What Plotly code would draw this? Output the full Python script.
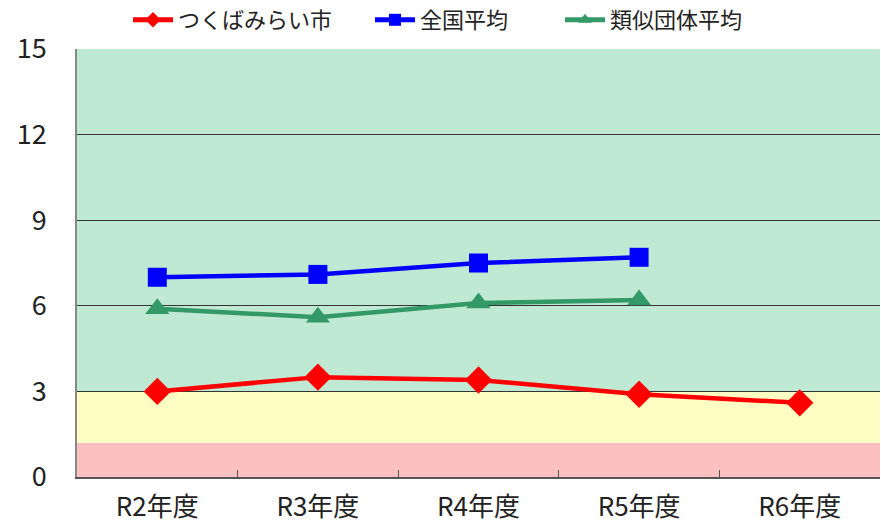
import plotly.graph_objects as go

categories = ["R2年度", "R3年度", "R4年度", "R5年度", "R6年度"]
tsukuba = [3.0, 3.5, 3.4, 2.9, 2.6]
national = [7.0, 7.1, 7.5, 7.7, None]
similar = [5.9, 5.6, 6.1, 6.2, None]
y_ticks = [0, 3, 6, 9, 12, 15]
bands = [(0, 1.2, "#fdc0c0"), (1.2, 3, "#fffcc4"), (3, 15, "#c0e9d3")]

font = "Noto Sans CJK JP"
fig = go.Figure()
fig.add_trace(go.Scatter(x=categories, y=tsukuba, name="つくばみらい市", mode="lines+markers",
                         line=dict(color="#ff0000", width=4.5),
                         marker=dict(symbol="diamond", size=21, color="#ff0000"),
                         legend="legend"))
fig.add_trace(go.Scatter(x=categories, y=national, name="全国平均", mode="lines+markers",
                         line=dict(color="#0000ff", width=4.5),
                         marker=dict(symbol="square", size=19, color="#0000ff"),
                         legend="legend2"))
fig.add_trace(go.Scatter(x=categories, y=similar, name="類似団体平均", mode="lines+markers",
                         line=dict(color="#339966", width=4.5),
                         marker=dict(symbol="triangle-up", size=21, color="#339966"),
                         legend="legend3"))

for y0, y1, c in bands:
    fig.add_shape(type="rect", xref="paper", x0=0, x1=1, yref="y", y0=y0, y1=y1,
                  fillcolor=c, line=dict(width=0), layer="below")

def leg(xpx):
    return dict(orientation="h", xref="container", x=xpx / 881, xanchor="left",
                yref="container", y=1 - 20 / 523, yanchor="middle",
                font=dict(size=22, family=font, color="#222222"), itemwidth=40,
                bgcolor="rgba(0,0,0,0)", itemsizing="constant")

fig.update_layout(
    width=881, height=523,
    margin=dict(l=77, r=1, t=49, b=46, autoexpand=False),
    paper_bgcolor="white", plot_bgcolor="white",
    font=dict(family=font, size=19, color="#222222"),
    legend=leg(128), legend2=leg(370), legend3=leg(560),
    showlegend=True,
)
fig.update_xaxes(type="category", showline=True, linecolor="#555555", linewidth=1.5,
                 ticks="inside", tickson="boundaries", ticklen=7, tickcolor="#555555",
                 showgrid=False, tickfont=dict(size=26), range=[-0.5, 4.5],
                 ticklabelstandoff=6)
fig.update_yaxes(range=[0, 15], tickvals=y_ticks, showline=True, linecolor="#888888",
                 linewidth=1.5, showgrid=True, gridcolor="#333333", gridwidth=1,
                 zeroline=False, tickfont=dict(size=27), ticklabelstandoff=23)

fig.write_html("out.html", config={"displayModeBar": False},
               post_script="document.body.style.margin='0';document.body.style.overflow='hidden';")
